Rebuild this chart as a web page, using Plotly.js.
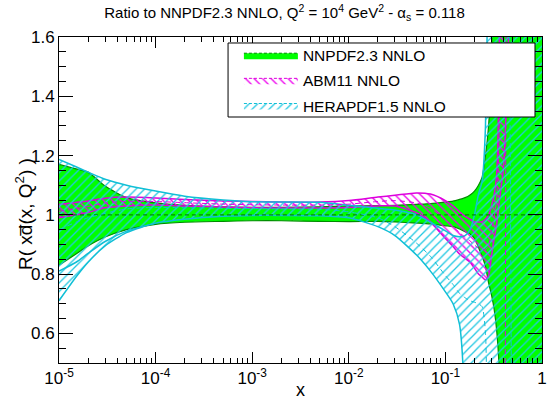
<!DOCTYPE html>
<html><head><meta charset="utf-8">
<script src="https://cdn.plot.ly/plotly-3.0.1.min.js"></script>
<style>html,body{margin:0;padding:0;background:#fff}#chart{width:551px;height:405px}</style>
</head><body><div id="chart"></div>
<script>
// x grid shared by all series
const xs = [1e-5, 1.5e-5, 2e-5, 3e-5, 5e-5, 1e-4, 2e-4, 5e-4, 1e-3, 2e-3, 5e-3, 1e-2, 2e-2, 3e-2, 5e-2, 7e-2,
  0.1, 0.12, 0.14, 0.16, 0.18, 0.2, 0.22, 0.24, 0.26, 0.28, 0.3, 0.32, 0.34, 0.36, 0.38, 0.4, 0.45, 0.5, 0.55, 0.6, 0.7, 0.8, 0.95];

// NNPDF2.3 NNLO (reference)
const nnpdfUpper = [1.17, 1.155, 1.144, 1.097, 1.058, 1.04, 1.032, 1.027, 1.025, 1.025, 1.027, 1.03, 1.031, 1.032, 1.035, 1.038,
  1.043, 1.046, 1.052, 1.058, 1.067, 1.08, 1.1, 1.127, 1.2, 1.3, 1.5, 2.5, 4, 6, 8, 10, 10, 10, 10, 10, 10, 10, 10];
const nnpdfLower = [0.83, 0.868, 0.895, 0.925, 0.95, 0.968, 0.975, 0.978, 0.98, 0.98, 0.978, 0.977, 0.978, 0.976, 0.972, 0.969,
  0.963, 0.96, 0.952, 0.943, 0.935, 0.92, 0.89, 0.86, 0.825, 0.77, 0.73, 0.68, 0.607, 0.48, -1, -10, -10, -10, -10, -10, -10, -10, -10];
const nnpdfCentral = [1, 1, 1, 1, 1, 1, 1, 1, 1, 1, 1, 1, 1, 1, 1, 1,
  1, 1, 1, 1, 1, 1, 1, 1, 1, 1, 1, 1, 1, 1, 1, 1, 1, 1, 1, 1, 1, 1, 1];

// ABM11 NNLO
const abmUpper = [1.035, 1.042, 1.047, 1.056, 1.06, 1.057, 1.052, 1.047, 1.045, 1.043, 1.043, 1.048, 1.06, 1.066, 1.074, 1.07,
  1.048, 1.03, 1.01, 0.995, 0.985, 0.976, 0.976, 0.977, 0.985, 1.0, 1.03, 1.07, 1.14, 1.5, 3, 6, 10, 10, 10, 10, 10, 10, 10];
const abmLower = [0.99, 1.0, 1.008, 1.024, 1.03, 1.033, 1.03, 1.026, 1.024, 1.023, 1.023, 1.025, 1.03, 1.03, 1.007, 0.975,
  0.92, 0.893, 0.868, 0.853, 0.84, 0.82, 0.80, 0.79, 0.78, 0.795, 0.86, 0.92, 0.97, 1.04, 1.1, 1.16, 1.6, 3, 10, 10, 10, 10, 10];
const abmCentral = [1.012, 1.021, 1.028, 1.04, 1.045, 1.045, 1.041, 1.036, 1.034, 1.033, 1.033, 1.036, 1.045, 1.048, 1.04, 1.022,
  0.984, 0.96, 0.94, 0.924, 0.912, 0.898, 0.888, 0.884, 0.882, 0.897, 0.945, 0.995, 1.055, 1.27, 2, 4, 8, 10, -10, -10, -10, -10, -10];

// HERAPDF1.5 NNLO
const heraUpper = [1.187, 1.162, 1.144, 1.12, 1.10, 1.08, 1.063, 1.05, 1.044, 1.043, 1.042, 1.032, 1.022, 1.016, 1.0, 0.975,
  0.946, 0.93, 0.926, 0.93, 0.95, 1.0, 1.07, 1.113, 1.3, 2, 4, 10, 10, 10, 10, 10, 10, 10, 10, 10, 10, 10, 10];
const heraLower = [0.71, 0.79, 0.84, 0.895, 0.94, 0.972, 0.985, 0.995, 0.998, 0.998, 0.997, 0.99, 0.96, 0.93, 0.865, 0.81,
  0.74, 0.70, 0.63, 0.3, -10, -10, -10, -10, -10, -10, -10, -10, -10, -10, -10, -10, -10, -10, -10, -10, -10, -10, -10];
const heraCentral = [0.95, 0.975, 0.99, 1.005, 1.02, 1.025, 1.024, 1.022, 1.021, 1.02, 1.019, 1.01, 0.99, 0.96, 0.905, 0.86,
  0.795, 0.765, 0.735, 0.72, 0.71, 0.705, 0.70, 0.69, 0.6, -2, -10, -10, -10, -10, -10, -10, -10, 10, 10, 10, 10, 10, 10];
const heraInnerX = [1e-5, 1.5e-5, 2e-5, 3e-5, 5e-5, 1e-4];
const heraInnerLower = [0.81, 0.84, 0.87, 0.91, 0.945, 0.972];

// labels
const seriesNames = ['NNPDF2.3 NNLO', 'ABM11 NNLO', 'HERAPDF1.5 NNLO'];
const xTickVals = [1e-5, 1e-4, 1e-3, 1e-2, 1e-1, 1];
const xTickText = ['10<sup>-5</sup>', '10<sup>-4</sup>', '10<sup>-3</sup>', '10<sup>-2</sup>', '10<sup>-1</sup>', '1'];
const yTickVals = [0.6, 0.8, 1.0, 1.2, 1.4, 1.6];
const yTickText = ['0.6', '0.8', '1', '1.2', '1.4', '1.6'];

const FONT = 'Liberation Sans, Arial, Helvetica, sans-serif';
const GREEN = '#00ff00', DGREEN = '#008c00';
const MAG = '#ee00ee', MAGL = '#dd00dd';
const CYAN = '#22c8e2', CYANL = '#10bfd6';
const SMOOTH = 0.6;

const minorX = [];
for (let e = -5; e < 0; e++) for (let m = 2; m <= 9; m++) minorX.push(m * Math.pow(10, e));

function band(upper, lower, fillcolor, pattern) {
  const t = {
    x: xs.concat(xs.slice().reverse()),
    y: lower.concat(upper.slice().reverse()),
    type: 'scatter', mode: 'lines', fill: 'toself',
    line: {width: 0, shape: 'spline', smoothing: SMOOTH}, fillcolor: fillcolor, showlegend: false, hoverinfo: 'skip'
  };
  if (pattern) t.fillpattern = pattern;
  return t;
}
function line(x, y, color, width, dash) {
  return {x: x, y: y, type: 'scatter', mode: 'lines',
    line: {color: color, width: width, dash: dash || 'solid', shape: 'spline', smoothing: SMOOTH},
    showlegend: false, hoverinfo: 'skip'};
}
function legendItem(name, fillcolor, lineColor, pattern, grp) {
  const t = {x: [null], y: [null], type: 'scatter', mode: 'lines', fill: 'toself', fillcolor: fillcolor,
    line: {color: lineColor, width: 1, dash: '3px,2px'}, name: name, legendgroup: grp, showlegend: true};
  if (pattern) t.fillpattern = pattern;
  return t;
}
const abmPat = {shape: '\\', fgcolor: MAG, bgcolor: 'rgba(0,0,0,0)', fillmode: 'replace', size: 6, solidity: 0.22};
const heraPat = {shape: '/', fgcolor: CYAN, bgcolor: 'rgba(0,0,0,0)', fillmode: 'replace', size: 6, solidity: 0.22};

const data = [
  band(nnpdfUpper, nnpdfLower, GREEN),
  line(xs, nnpdfUpper, DGREEN, 1.2), line(xs, nnpdfLower, DGREEN, 1.2),
  band(abmUpper, abmLower, 'rgba(0,0,0,0)', abmPat),
  line(xs, abmUpper, MAGL, 1.5), line(xs, abmLower, MAGL, 1.5),
  band(heraUpper, heraLower, 'rgba(0,0,0,0)', heraPat),
  line(xs, heraUpper, CYANL, 1.5), line(xs, heraLower, CYANL, 1.5),
  line(heraInnerX, heraInnerLower, CYANL, 1.5),
  line(xs, nnpdfCentral, DGREEN, 1.3, '4px,3px'),
  line(xs, abmCentral, MAGL, 1, '5px,4px'),
  line(xs, heraCentral, CYANL, 1, '5px,4px'),
  legendItem(seriesNames[0], GREEN, DGREEN, null, 'a'),
  legendItem(seriesNames[1], 'rgba(0,0,0,0)', MAGL, abmPat, 'b'),
  legendItem(seriesNames[2], 'rgba(0,0,0,0)', CYANL, heraPat, 'c')
];

const axisCommon = {
  ticks: 'inside', tickwidth: 1, tickcolor: '#000', showline: true, linecolor: '#000', linewidth: 1,
  mirror: 'allticks', showgrid: false, zeroline: false, tickfont: {family: FONT, size: 17, color: '#000'}
};
const layout = {
  width: 551, height: 405, paper_bgcolor: '#fff', plot_bgcolor: '#fff',
  margin: {l: 59, r: 9, t: 37, b: 42},
  font: {family: FONT, color: '#000'},
  title: {text: 'Ratio to NNPDF2.3 NNLO, Q<sup>2</sup> = 10<sup>4</sup> GeV<sup>2</sup> - α<sub>s</sub> = 0.118',
    font: {family: FONT, size: 15, color: '#000'}, x: 0.467, xref: 'paper', xanchor: 'center',
    y: 0.968, yref: 'container', yanchor: 'middle'},
  xaxis: Object.assign({}, axisCommon, {type: 'log', range: [-5, 0], tickmode: 'array', tickvals: xTickVals,
    ticktext: xTickText, ticklen: 11,
    minor: {tickmode: 'array', tickvals: minorX, ticks: 'inside', ticklen: 5, tickwidth: 1, tickcolor: '#000', showgrid: false}}),
  yaxis: Object.assign({}, axisCommon, {range: [0.5, 1.6], tickmode: 'array', tickvals: yTickVals, ticktext: yTickText,
    ticklen: 14,
    minor: {tickmode: 'linear', tick0: 0.5, dtick: 0.05, ticks: 'inside', ticklen: 7, tickwidth: 1, tickcolor: '#000', showgrid: false}}),
  showlegend: true,
  legend: {x: 0.3725, y: 0.995, xanchor: 'left', yanchor: 'top', bgcolor: 'rgba(0,0,0,0)', borderwidth: 0,
    font: {family: FONT, size: 15.5, color: '#000'}, itemwidth: 54, traceorder: 'grouped', tracegroupgap: 2},
  shapes: [{type: 'rect', xref: 'paper', yref: 'paper', x0: 0.35, x1: 0.9855, y0: 0.7546, y1: 0.9816,
    fillcolor: '#fff', line: {color: '#000', width: 1}, layer: 'above'}],
  annotations: [
    {text: 'x', xref: 'paper', yref: 'paper', x: 0.499, y: -0.083, xanchor: 'center', yanchor: 'middle',
      showarrow: false, font: {family: FONT, size: 18, color: '#000'}},
    {text: 'R( xd\u0305(x, Q<sup>2</sup>) )', xref: 'paper', yref: 'paper', x: -0.0725, y: 0.457, textangle: -90,
      xanchor: 'center', yanchor: 'middle', showarrow: false, font: {family: FONT, size: 19, color: '#000'}}
  ]
};
Plotly.newPlot('chart', data, layout, {staticPlot: true, displayModeBar: false});
</script></body></html>
